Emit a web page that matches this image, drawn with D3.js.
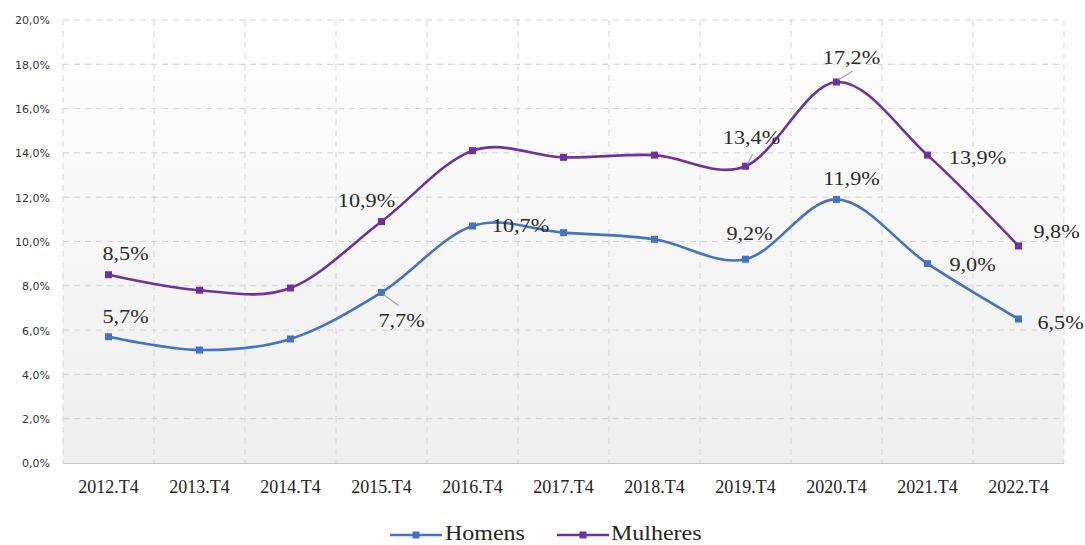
<!DOCTYPE html>
<html><head><meta charset="utf-8">
<script src="https://cdn.jsdelivr.net/npm/d3@7"></script>
<style>
html,body{margin:0;padding:0;background:#fff;}
svg{display:block;}
</style></head>
<body>
<svg id="chart" width="1085" height="545"></svg>
<script>
const categories = ["2012.T4","2013.T4","2014.T4","2015.T4","2016.T4","2017.T4","2018.T4","2019.T4","2020.T4","2021.T4","2022.T4"];
const homens   = [5.7, 5.1, 5.6, 7.7, 10.7, 10.4, 10.1, 9.2, 11.9, 9.0, 6.5];
const mulheres = [8.5, 7.8, 7.9, 10.9, 14.1, 13.8, 13.9, 13.4, 17.2, 13.9, 9.8];
const yTicks = [0,2,4,6,8,10,12,14,16,18,20];
const seriesNames = ["Homens","Mulheres"];
const labeledHomens = ["2012.T4","2015.T4","2016.T4","2019.T4","2020.T4","2021.T4","2022.T4"];
const labeledMulheres = ["2012.T4","2015.T4","2019.T4","2020.T4","2021.T4","2022.T4"];

// layout / style (not data)
const colors = {Homens:"#4472C4", Mulheres:"#7030A0"};
const labelOffsets = {
  Homens: {"2012.T4":[17,-14],"2015.T4":[20,35,true],"2016.T4":[48,6],"2019.T4":[4,-19],"2020.T4":[15,-14],"2021.T4":[45,7],"2022.T4":[42,10]},
  Mulheres: {"2012.T4":[17,-15],"2015.T4":[-15,-15],"2019.T4":[6,-22,true],"2020.T4":[15,-18,true],"2021.T4":[50,9],"2022.T4":[38,-8]}
};

const svg = d3.select("#chart");
const L = 63, R = 1064, T = 20, B = 463;

const x = d3.scaleBand().domain(categories).range([L, R]).padding(0);
const y = d3.scaleLinear().domain([0, 20]).range([B, T]);

const defs = svg.append("defs");
const grad = defs.append("linearGradient").attr("id","bg").attr("x1",0).attr("y1",0).attr("x2",0).attr("y2",1);
grad.append("stop").attr("offset","0%").attr("stop-color","#ffffff");
grad.append("stop").attr("offset","100%").attr("stop-color","#eeeeee");

svg.append("rect").attr("x",L).attr("y",T).attr("width",R-L).attr("height",B-T).attr("fill","url(#bg)");

// horizontal grid
svg.append("g").selectAll("line").data(yTicks.filter(d=>d>0)).join("line")
  .attr("x1",L).attr("x2",R).attr("y1",d=>y(d)).attr("y2",d=>y(d))
  .attr("stroke","#d2d2d2").attr("stroke-width",1).attr("stroke-dasharray","6,5");
// vertical grid
const vlines = categories.map(c=>x(c)).concat([R]);
svg.append("g").selectAll("line").data(vlines).join("line")
  .attr("x1",d=>d).attr("x2",d=>d).attr("y1",T).attr("y2",B)
  .attr("stroke","#d6d6d6").attr("stroke-width",1).attr("stroke-dasharray","6,5");

// x axis baseline
svg.append("line").attr("x1",L).attr("x2",R).attr("y1",B+0.5).attr("y2",B+0.5).attr("stroke","#c6c6c6").attr("stroke-width",1.2);

// y axis labels
const yAxis = d3.axisLeft(y).tickValues(yTicks).tickSize(0).tickPadding(0)
  .tickFormat(d=>d3.format(".1f")(d).replace(".",",")+"%");
const gy = svg.append("g").attr("transform",`translate(${L-13},0)`).call(yAxis);
gy.select(".domain").remove();
gy.selectAll("text").attr("font-family","DejaVu Sans").attr("font-size","11px").attr("fill","#333").attr("dy","0.36em");

// x axis labels
const xAxis = d3.axisBottom(x).tickSize(0).tickPadding(0);
const gx = svg.append("g").attr("transform",`translate(0,${B})`).call(xAxis);
gx.select(".domain").remove();
gx.selectAll("text").attr("font-family","Liberation Serif").attr("font-size","18px").attr("fill","#222").attr("dy",null).attr("y",30);

const line = d3.line().x((d,i)=>x(categories[i])+x.bandwidth()/2).y(d=>y(d)).curve(d3.curveCardinal.tension(0));

const series = [{name:"Homens", values:homens, labeled:labeledHomens},{name:"Mulheres", values:mulheres, labeled:labeledMulheres}];

series.forEach(s=>{
  svg.append("path").datum(s.values).attr("d",line).attr("fill","none")
    .attr("stroke",colors[s.name]).attr("stroke-width",2.6).attr("stroke-linejoin","round");
  svg.append("g").selectAll("rect").data(s.values).join("rect")
    .attr("x",(d,i)=>x(categories[i])+x.bandwidth()/2-3.5).attr("y",d=>y(d)-3.5)
    .attr("width",7).attr("height",7).attr("fill",colors[s.name]);
});

// data labels
const fmt = v => d3.format(".1f")(v).replace(".",",")+"%";
series.forEach(s=>{
  s.labeled.forEach(c=>{
    const i = categories.indexOf(c);
    const px = x(c)+x.bandwidth()/2, py = y(s.values[i]);
    const off = labelOffsets[s.name][c];
    const tx = px+off[0], ty = py+off[1];
    if (off[2]) {
      let x2, y2;
      if (off[1] > 0) { x2 = px+17; y2 = py+13; }
      else { x2 = px + (off[0]>10 ? 16 : 7); y2 = py - (off[0]>10 ? 11 : 12); }
      svg.append("line").attr("x1",px+2).attr("y1",py+(off[1]>0?2:-2)).attr("x2",x2).attr("y2",y2)
        .attr("stroke","#a6a6a6").attr("stroke-width",1.2);
    }
    svg.append("text").attr("transform",`translate(${tx},${ty}) scale(1.14,1)`)
      .attr("text-anchor","middle").attr("font-family","Liberation Serif").attr("font-size","19.5px")
      .attr("fill","#2a2a2a").text(fmt(s.values[i]));
  });
});

// legend
const legend = [{name:"Homens", x:390, tx:445},{name:"Mulheres", x:557, tx:611}];
legend.forEach(l=>{
  svg.append("line").attr("x1",l.x).attr("x2",l.x+52).attr("y1",535).attr("y2",535)
    .attr("stroke",colors[l.name]).attr("stroke-width",2.6);
  svg.append("rect").attr("x",l.x+26-3.5).attr("y",535-3.5).attr("width",7).attr("height",7).attr("fill",colors[l.name]);
  svg.append("text").attr("transform",`translate(${l.tx},540) scale(1.2,1)`)
    .attr("font-family","Liberation Serif").attr("font-size","20px").attr("fill","#262626").text(l.name);
});
</script>
</body></html>
